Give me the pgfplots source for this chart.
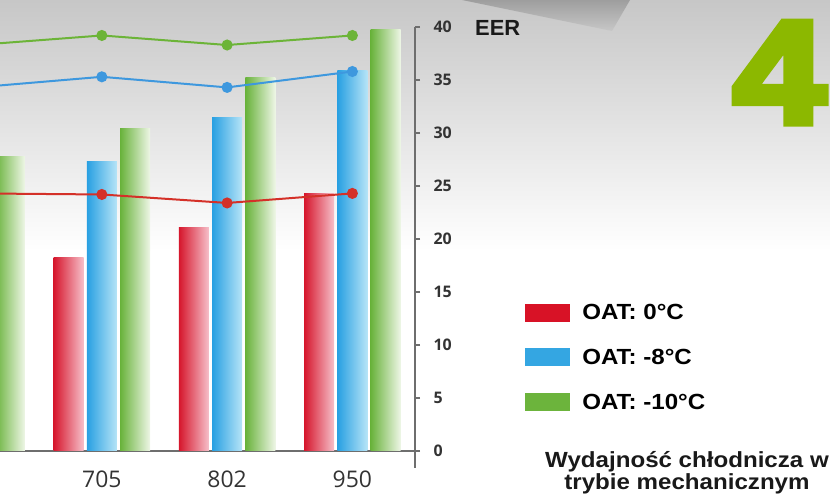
\documentclass[border=0pt]{standalone}
\usepackage{fontspec}
\setmainfont{Liberation Sans}
\newfontfamily\tickfont{Open Sans}
\newfontfamily\widefont[FakeStretch=1.1]{Liberation Sans}
\newfontfamily\bigfont[UprightFont={* Bold}, FakeBold=5]{Liberation Sans}
\usepackage{pgfplots}
\pgfplotsset{compat=1.18}
\definecolor{redA}{RGB}{214,22,44}
\definecolor{redB}{RGB}{246,192,202}
\definecolor{blueA}{RGB}{40,160,226}
\definecolor{blueB}{RGB}{182,228,247}
\definecolor{greenA}{RGB}{104,178,58}
\definecolor{greenB}{RGB}{238,246,230}
\definecolor{lineR}{RGB}{212,48,40}
\definecolor{lineB}{RGB}{62,152,222}
\definecolor{lineG}{RGB}{108,180,56}
\definecolor{legR}{RGB}{216,18,38}
\definecolor{legB}{RGB}{52,166,226}
\definecolor{legG}{RGB}{108,180,60}
\definecolor{bigG}{RGB}{140,184,0}
\definecolor{axgray}{RGB}{110,110,110}
\pgfplotsset{
  redbar/.style={forget plot, ybar, bar width=0.24, bar shift=-0.265, draw=none, left color=redA, right color=redB},
  bluebar/.style={forget plot, ybar, bar width=0.24, bar shift=0, draw=none, left color=blueA, right color=blueB},
  greenbar/.style={forget plot, ybar, bar width=0.24, bar shift=0.265, draw=none, left color=greenA, right color=greenB},
}
\begin{document}
\begin{tikzpicture}[x=1bp,y=1bp]
\useasboundingbox (0,0) rectangle (830,501);
\shade[top color=black!22, bottom color=white] (0,501) rectangle (830,250);
\shade[top color=black!38, bottom color=black!22] (462,501) -- (612,470) -- (630,501) -- cycle;
\begin{axis}[
  at={(0bp,50bp)}, anchor=south west, scale only axis,
  width=415bp, height=424bp,
  xmin=0.187, xmax=3.5, ymin=0, ymax=40,
  axis x line*=bottom, axis y line*=right,
  axis line style={axgray, line width=1.3bp},
  y axis line style={shorten <=-17bp},
  tick align=outside,
  major tick length=5bp,
  tick style={axgray, line width=1.2bp},
  xtick={1,2,3}, xticklabels={705,802,950},
  xtick style={draw=none},
  extra x ticks={0.5,1.5,2.5}, extra x tick labels={},
  extra x tick style={major tick length=20bp, tick style={axgray, line width=1.2bp}},
  ytick={0,5,...,40},
  /pgf/number format/assume math mode=true,
  x tick label style={font=\tickfont\fontsize{23}{23}\selectfont, text=black!80, yshift=-11bp},
  y tick label style={font=\tickfont\bfseries\fontsize{16}{16}\selectfont, text=black!80, xshift=10bp},
  legend style={at={(axis description cs:1.258,0.356)}, anchor=north west, draw=none, fill=none,
    font=\widefont\bfseries\fontsize{22}{22}\selectfont, row sep=24bp,
    /tikz/every odd column/.append style={column sep=10bp}},
  legend image code/.code={\fill[draw=none,#1] (0bp,-9bp) rectangle (45bp,9bp);},
  legend cell align=left,
]
% OAT 0 C (red)
\addplot[redbar] coordinates {(1,18.3)};
\addplot[redbar] coordinates {(2,21.1)};
\addplot[redbar] coordinates {(3,24.3)};
% OAT -8 C (blue)
\addplot[bluebar] coordinates {(1,27.3)};
\addplot[bluebar] coordinates {(2,31.5)};
\addplot[bluebar] coordinates {(3,35.9)};
% OAT -10 C (green)
\addplot[greenbar] coordinates {(0,27.8)};
\addplot[greenbar] coordinates {(1,30.4)};
\addplot[greenbar] coordinates {(2,35.2)};
\addplot[greenbar] coordinates {(3,39.8)};
% EER lines
\addplot[forget plot, lineG, line width=2bp, mark=*, mark size=4.5bp]
  coordinates {(0,38.3) (1,39.2) (2,38.3) (3,39.2)};
\addplot[forget plot, lineB, line width=2bp, mark=*, mark size=4.5bp]
  coordinates {(0,34.3) (1,35.3) (2,34.3) (3,35.8)};
\addplot[forget plot, lineR, line width=2bp, mark=*, mark size=4.5bp]
  coordinates {(0,24.3) (1,24.2) (2,23.4) (3,24.3)};
\addlegendimage{fill=legR}
\addlegendentry{OAT: 0°C}
\addlegendimage{fill=legB}
\addlegendentry{OAT: -8°C}
\addlegendimage{fill=legG}
\addlegendentry{OAT: -10°C}
\end{axis}
\node[anchor=base, font=\tickfont\fontsize{23}{23}\selectfont, text=black!80] at (-19,14) {605};
\node[anchor=base west, inner sep=0pt, font=\bfseries\fontsize{22}{22}\selectfont, text=black!90] at (475,465) {EER};
\node[anchor=base west, inner sep=0pt, xscale=1.13, font=\bigfont\fontsize{147}{147}\selectfont, text=bigG] at (733,378) {4};
\node[anchor=base, inner sep=0pt, font=\widefont\bfseries\fontsize{22}{22}\selectfont, text=black!90] at (687,33) {Wydajność chłodnicza w};
\node[anchor=base, inner sep=0pt, font=\widefont\bfseries\fontsize{22}{22}\selectfont, text=black!90] at (687,11) {trybie mechanicznym};
\end{tikzpicture}
\end{document}
